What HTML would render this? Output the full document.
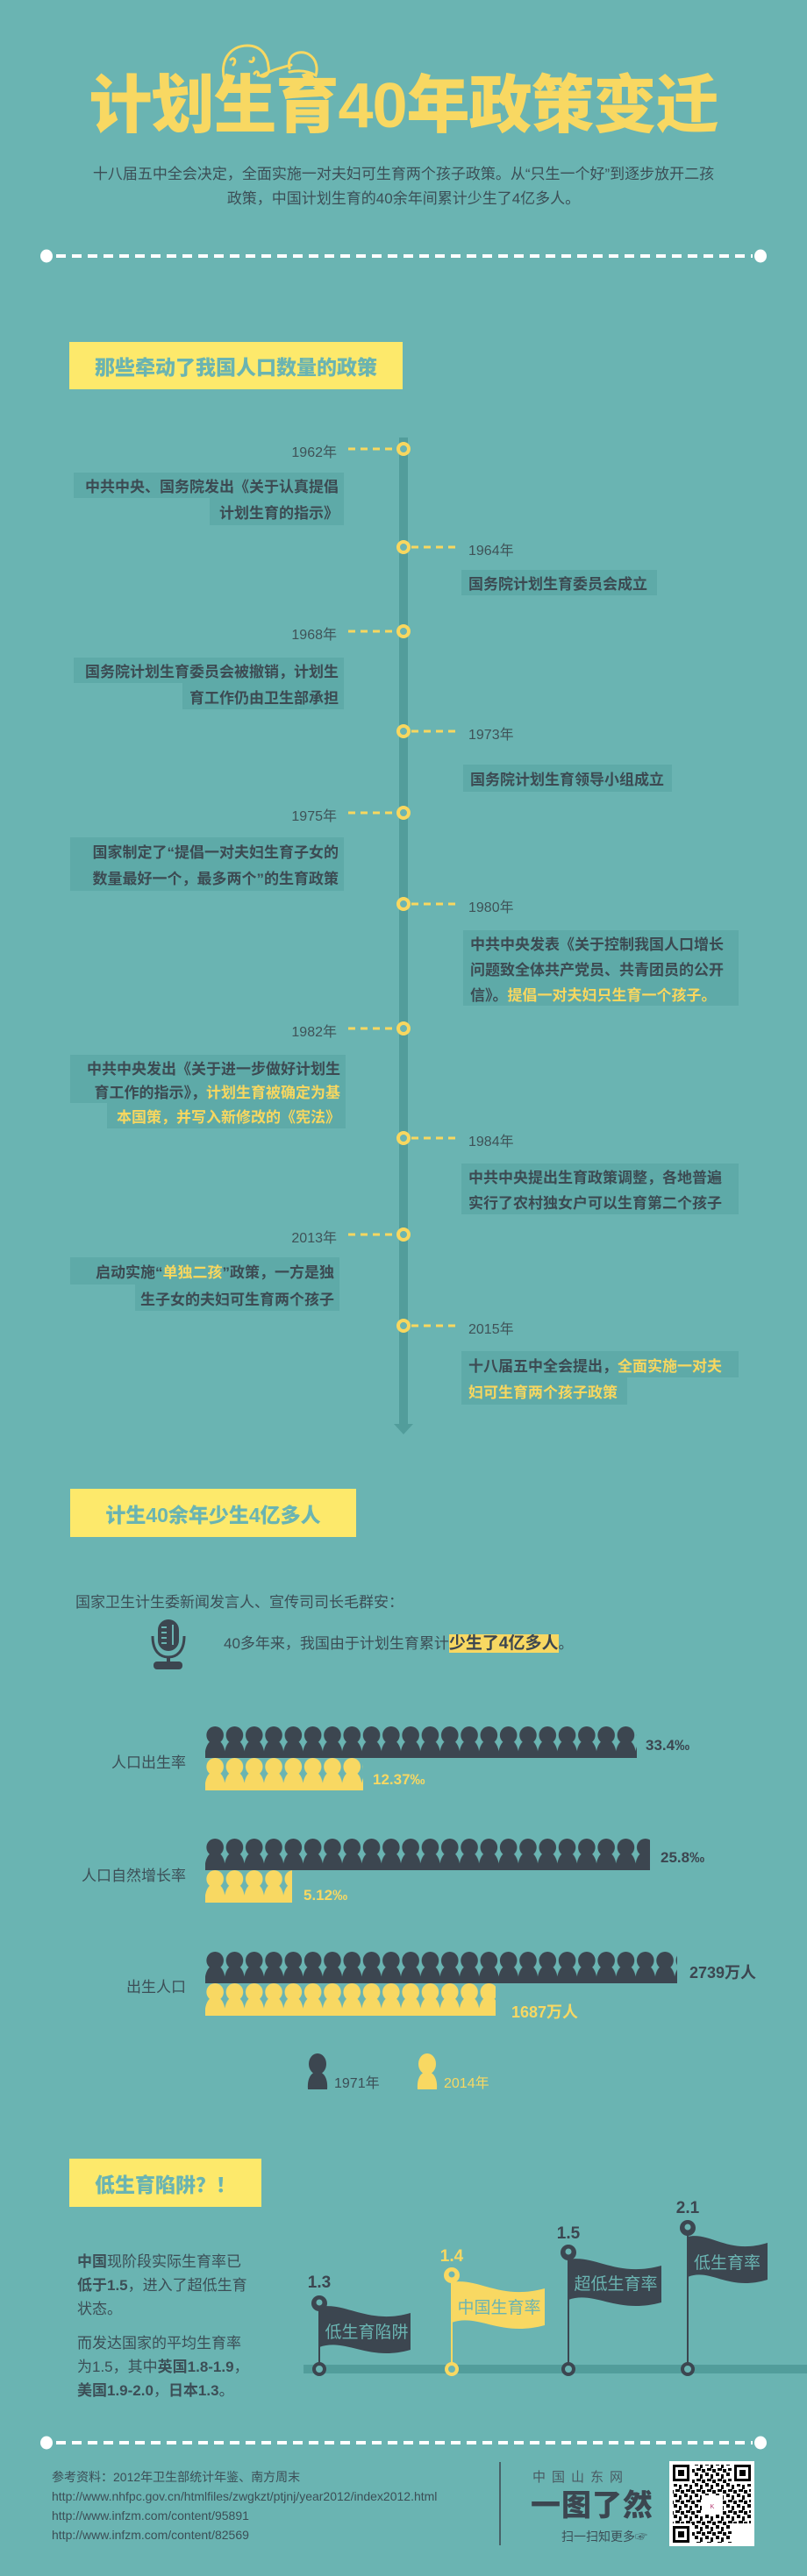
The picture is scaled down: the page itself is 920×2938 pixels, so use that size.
<!DOCTYPE html>
<html><head><meta charset="utf-8">
<style>
*{margin:0;padding:0;box-sizing:border-box}
body{width:920px;height:2938px;background:#6ab4b2;position:relative;overflow:hidden;font-family:"Liberation Sans","Noto Sans CJK SC",sans-serif;color:#3c4a52}
.a{position:absolute;white-space:nowrap}
svg.ov{position:absolute;left:0;top:0}
.hd{position:absolute;background:#fde96b;color:#6ab4b2;font-weight:900;font-size:23px;display:flex;align-items:center;justify-content:center}
.b{position:absolute;background:#5eaaa8;font-size:17px;font-weight:700;display:flex;align-items:center;white-space:nowrap;color:#3c4a52}
.r{justify-content:flex-end;padding-right:6px}
.l{justify-content:flex-start;padding-left:8px}
.y{color:#f8d75f}
.yr{font-size:16px;color:#3f5257}
</style></head><body>
<svg class="ov" width="920" height="2938" viewBox="0 0 920 2938">
<defs>
<pattern id="pd" patternUnits="userSpaceOnUse" width="22.3" height="36"><ellipse cx="11.15" cy="10" rx="9.8" ry="10" fill="#3c4650"/><path d="M-0.5,36 C-1,24 4,15 11.15,15 C18.3,15 23.3,24 22.8,36 Z" fill="#3c4650"/></pattern>
<pattern id="py" patternUnits="userSpaceOnUse" width="22.3" height="37"><ellipse cx="11.15" cy="10" rx="9.8" ry="10" fill="#f8d862"/><path d="M-0.5,37 C-1,24 4,15 11.15,15 C18.3,15 23.3,24 22.8,37 Z" fill="#f8d862"/></pattern>
</defs>
<!-- baby -->
<g fill="none" stroke="#f8d862" stroke-width="3" stroke-linecap="round">
<path d="M256,92 C250,70 262,52 282,52 C298,52 305,64 306,76 C308,84 302,90 296,86"/>
<path d="M263,68 C267,64 270,70 266,74"/>
<path d="M285,70 C288,72 290,68 289,66"/>
<path d="M290,84 C292,80 296,82 294,86 M298,86 C310,80 318,78 332,74"/>
<path d="M330,78 C326,62 342,56 352,62 C362,68 362,80 360,86 C350,80 340,80 330,82"/>
</g>
<!-- dashed separators -->
<g stroke="#fff" stroke-width="4" stroke-dasharray="11 7"><line x1="64" y1="292" x2="858" y2="292"/><line x1="64" y1="2786" x2="858" y2="2786"/></g>
<g fill="#fff"><ellipse cx="53" cy="292" rx="7" ry="7.5"/><ellipse cx="867" cy="292" rx="7" ry="7.5"/><ellipse cx="53" cy="2786" rx="7" ry="7.5"/><ellipse cx="867" cy="2786" rx="7" ry="7.5"/></g>
<!-- timeline -->
<rect x="455" y="499" width="10" height="1128" fill="#529d9b"/>
<polygon points="449,1624 471,1624 460,1636" fill="#529d9b"/>
<g stroke="#f8d75f" stroke-width="3" stroke-dasharray="8 6">
<line x1="397" y1="512" x2="451" y2="512"/><line x1="469" y1="624" x2="521" y2="624"/>
<line x1="397" y1="720" x2="451" y2="720"/><line x1="469" y1="834" x2="521" y2="834"/>
<line x1="397" y1="927" x2="451" y2="927"/><line x1="469" y1="1031" x2="521" y2="1031"/>
<line x1="397" y1="1173" x2="451" y2="1173"/><line x1="469" y1="1298" x2="521" y2="1298"/>
<line x1="397" y1="1408" x2="451" y2="1408"/><line x1="469" y1="1512" x2="521" y2="1512"/>
</g>
<g fill="#6ab4b2" stroke="#f8d75f" stroke-width="4">
<circle cx="460" cy="512" r="6"/><circle cx="460" cy="624" r="6"/><circle cx="460" cy="720" r="6"/><circle cx="460" cy="834" r="6"/><circle cx="460" cy="927" r="6"/><circle cx="460" cy="1031" r="6"/><circle cx="460" cy="1173" r="6"/><circle cx="460" cy="1298" r="6"/><circle cx="460" cy="1408" r="6"/><circle cx="460" cy="1512" r="6"/>
</g>
<!-- mic -->
<g fill="#3c4650">
<rect x="180" y="1847" width="24" height="36" rx="12"/>
<path d="M174,1866 C174,1884 183,1890 192,1890 C201,1890 210,1884 210,1866" fill="none" stroke="#3c4650" stroke-width="3"/>
<rect x="190" y="1889" width="4" height="7"/>
<rect x="175" y="1895" width="33" height="9" rx="4"/>
</g>
<g stroke="#6ab4b2" stroke-width="2"><line x1="184" y1="1856" x2="190" y2="1856"/><line x1="184" y1="1862" x2="190" y2="1862"/><line x1="184" y1="1868" x2="190" y2="1868"/><line x1="184" y1="1874" x2="190" y2="1874"/><line x1="197" y1="1853" x2="197" y2="1876"/></g>
<!-- people -->
<g transform="translate(234,1969)"><rect width="492" height="36" fill="url(#pd)"/></g>
<g transform="translate(234,2005)"><rect width="180" height="37" fill="url(#py)"/></g>
<g transform="translate(234,2097)"><rect width="507" height="36" fill="url(#pd)"/></g>
<g transform="translate(234,2133)"><rect width="99" height="37" fill="url(#py)"/></g>
<g transform="translate(234,2226)"><rect width="538" height="36" fill="url(#pd)"/></g>
<g transform="translate(234,2262)"><rect width="331" height="37" fill="url(#py)"/></g>
<g transform="translate(351,2343)"><ellipse cx="11" cy="11" rx="10" ry="12" fill="#3c4650"/><path d="M0,40 C-1,27 4,20 11,20 C18,20 23,27 22,40 Z" fill="#3c4650"/></g>
<g transform="translate(476,2343)"><ellipse cx="11" cy="11" rx="10" ry="12" fill="#f8d862"/><path d="M0,40 C-1,27 4,20 11,20 C18,20 23,27 22,40 Z" fill="#f8d862"/></g>
<!-- baseline -->
<rect x="346" y="2697" width="574" height="10" fill="#529d9b"/>
<!-- flags -->
<g font-family="Liberation Sans,Noto Sans CJK SC,sans-serif" text-anchor="middle">
<line x1="364" y1="2630" x2="364" y2="2700" stroke="#3c4650" stroke-width="2"/>
<path d="M364,2631 C394,2625 420,2652 468,2638 L468,2680 C420,2694 394,2666 364,2677 Z" fill="#3c4650"/>
<circle cx="364" cy="2627" r="9" fill="#3c4650"/><circle cx="364" cy="2626" r="3.5" fill="#6ab4b2"/>
<text x="418" y="2666" font-size="19" fill="#6ab4b2">低生育陷阱</text>
<text x="364" y="2609" font-size="19" font-weight="700" fill="#3c4650">1.3</text>
<circle cx="364" cy="2702" r="6" fill="#6ab4b2" stroke="#3c4650" stroke-width="4"/>

<line x1="515" y1="2600" x2="515" y2="2700" stroke="#f8d862" stroke-width="2"/>
<path d="M515,2603 C545,2597 570,2624 621,2610 L621,2652 C570,2666 545,2638 515,2649 Z" fill="#f8d862"/>
<circle cx="515" cy="2595" r="9" fill="#f8d862"/><circle cx="515" cy="2594" r="3.5" fill="#6ab4b2"/>
<text x="569" y="2638" font-size="19" fill="#6ab4b2">中国生育率</text>
<text x="515" y="2579" font-size="19" font-weight="700" fill="#f8d862">1.4</text>
<circle cx="515" cy="2702" r="6" fill="#6ab4b2" stroke="#f8d862" stroke-width="4"/>

<line x1="648" y1="2575" x2="648" y2="2700" stroke="#3c4650" stroke-width="2"/>
<path d="M648,2577 C678,2571 703,2598 754,2584 L754,2626 C703,2640 678,2612 648,2623 Z" fill="#3c4650"/>
<circle cx="648" cy="2569" r="9" fill="#3c4650"/><circle cx="648" cy="2568" r="3.5" fill="#6ab4b2"/>
<text x="702" y="2611" font-size="19" fill="#6ab4b2">超低生育率</text>
<text x="648" y="2553" font-size="19" font-weight="700" fill="#3c4650">1.5</text>
<circle cx="648" cy="2702" r="6" fill="#6ab4b2" stroke="#3c4650" stroke-width="4"/>

<line x1="784" y1="2548" x2="784" y2="2700" stroke="#3c4650" stroke-width="2"/>
<path d="M784,2551 C810,2545 830,2572 875,2558 L875,2600 C830,2614 810,2586 784,2597 Z" fill="#3c4650"/>
<circle cx="784" cy="2541" r="9" fill="#3c4650"/><circle cx="784" cy="2540" r="3.5" fill="#6ab4b2"/>
<text x="829" y="2587" font-size="19" fill="#6ab4b2">低生育率</text>
<text x="784" y="2524" font-size="19" font-weight="700" fill="#3c4650">2.1</text>
<circle cx="784" cy="2702" r="6" fill="#6ab4b2" stroke="#3c4650" stroke-width="4"/>
</g>
<!-- footer divider -->
<line x1="570" y1="2808" x2="570" y2="2903" stroke="#3c4650" stroke-width="1.5"/>
<!-- QR -->
<defs><pattern id="qr" patternUnits="userSpaceOnUse" width="12" height="12"><rect width="12" height="12" fill="#fff"/><rect x="0" y="0" width="4" height="4" fill="#000"/><rect x="6" y="2" width="3" height="5" fill="#000"/><rect x="2" y="7" width="5" height="3" fill="#000"/><rect x="8" y="8" width="4" height="4" fill="#000"/></pattern></defs>
<rect x="763" y="2807" width="97" height="97" fill="#fff"/>
<rect x="789" y="2811" width="45" height="89" fill="url(#qr)"/>
<rect x="767" y="2833" width="89" height="45" fill="url(#qr)"/>
<g fill="#000">
<rect x="767" y="2811" width="19" height="19"/><rect x="837" y="2811" width="19" height="19"/><rect x="767" y="2881" width="19" height="19"/>
</g>
<g fill="#fff"><rect x="770" y="2814" width="13" height="13"/><rect x="840" y="2814" width="13" height="13"/><rect x="770" y="2884" width="13" height="13"/></g>
<g fill="#000"><rect x="773" y="2817" width="7" height="7"/><rect x="843" y="2817" width="7" height="7"/><rect x="773" y="2887" width="7" height="7"/></g>
<rect x="800" y="2846" width="24" height="22" fill="#fff"/>
<text x="812" y="2861" font-size="7" fill="#b0306a" text-anchor="middle" font-family="Liberation Sans,sans-serif">K</text>
</svg>

<div class="a" style="left:0;width:920px;top:82px;text-align:center;font-size:72px;line-height:78px;font-weight:900;color:#f8d862;letter-spacing:-1px;font-family:'Liberation Sans','Noto Sans CJK SC',sans-serif">计划生育40年政策变迁</div>
<div class="a" style="left:0;width:920px;top:185px;text-align:center;font-size:17px;line-height:28px;color:#3c4e56">十八届五中全会决定，全面实施一对夫妇可生育两个孩子政策。从“只生一个好”到逐步放开二孩<br>政策，中国计划生育的40余年间累计少生了4亿多人。</div>

<div class="hd" style="left:79px;top:390px;width:380px;height:54px">那些牵动了我国人口数量的政策</div>

<div class="a yr" style="right:536px;top:502px">1962年</div>
<div class="a yr" style="left:534px;top:614px">1964年</div>
<div class="a yr" style="right:536px;top:710px">1968年</div>
<div class="a yr" style="left:534px;top:824px">1973年</div>
<div class="a yr" style="right:536px;top:917px">1975年</div>
<div class="a yr" style="left:534px;top:1021px">1980年</div>
<div class="a yr" style="right:536px;top:1163px">1982年</div>
<div class="a yr" style="left:534px;top:1288px">1984年</div>
<div class="a yr" style="right:536px;top:1398px">2013年</div>
<div class="a yr" style="left:534px;top:1502px">2015年</div>

<div class="b r" style="left:84px;top:539px;width:308px;height:29px">中共中央、国务院发出《关于认真提倡</div>
<div class="b r" style="left:239px;top:568px;width:153px;height:31px">计划生育的指示》</div>
<div class="b l" style="left:526px;top:650px;width:223px;height:29px">国务院计划生育委员会成立</div>
<div class="b r" style="left:84px;top:750px;width:308px;height:29px">国务院计划生育委员会被撤销，计划生</div>
<div class="b r" style="left:208px;top:779px;width:184px;height:30px">育工作仍由卫生部承担</div>
<div class="b l" style="left:528px;top:872px;width:238px;height:31px">国务院计划生育领导小组成立</div>
<div class="b r" style="left:80px;top:955px;width:312px;height:30px">国家制定了“提倡一对夫妇生育子女的</div>
<div class="b r" style="left:80px;top:985px;width:312px;height:31px">数量最好一个，最多两个”的生育政策</div>
<div class="b l" style="left:528px;top:1061px;width:314px;height:29px">中共中央发表《关于控制我国人口增长</div>
<div class="b l" style="left:528px;top:1090px;width:314px;height:29px">问题致全体共产党员、共青团员的公开</div>
<div class="b l" style="left:528px;top:1119px;width:314px;height:28px">信》。<span class="y">提倡一对夫妇只生育一个孩子。</span></div>
<div class="b r" style="left:80px;top:1203px;width:314px;height:28px">中共中央发出《关于进一步做好计划生</div>
<div class="b r" style="left:80px;top:1231px;width:314px;height:27px">育工作的指示》，<span class="y">计划生育被确定为基</span></div>
<div class="b r" style="left:122px;top:1258px;width:272px;height:29px"><span class="y">本国策，并写入新修改的《宪法》</span></div>
<div class="b l" style="left:526px;top:1327px;width:316px;height:29px">中共中央提出生育政策调整，各地普遍</div>
<div class="b l" style="left:526px;top:1356px;width:316px;height:29px">实行了农村独女户可以生育第二个孩子</div>
<div class="b r" style="left:80px;top:1434px;width:307px;height:31px">启动实施“<span class="y">单独二孩</span>”政策，一方是独</div>
<div class="b r" style="left:154px;top:1465px;width:233px;height:30px">生子女的夫妇可生育两个孩子</div>
<div class="b l" style="left:526px;top:1541px;width:316px;height:30px">十八届五中全会提出，<span class="y">全面实施一对夫</span></div>
<div class="b l" style="left:526px;top:1571px;width:189px;height:31px"><span class="y">妇可生育两个孩子政策</span></div>

<div class="hd" style="left:80px;top:1698px;width:326px;height:55px">计生40余年少生4亿多人</div>
<div class="a" style="left:86px;top:1813px;font-size:17px;color:#3c4e56">国家卫生计生委新闻发言人、宣传司司长毛群安：</div>
<div class="a" style="left:255px;top:1862px;height:25px;line-height:25px;font-size:17px;color:#3c4e56">40多年来，我国由于计划生育累计<span style="background:#f8d862;font-weight:700;font-size:19px;color:#3c4650">少生了4亿多人</span>。</div>

<div class="a" style="right:708px;top:1996px;font-size:17px;color:#3c4e56">人口出生率</div>
<div class="a" style="right:708px;top:2125px;font-size:17px;color:#3c4e56">人口自然增长率</div>
<div class="a" style="right:708px;top:2252px;font-size:17px;color:#3c4e56">出生人口</div>
<div class="a" style="left:736px;top:1981px;font-size:17px;font-weight:700;color:#3c4650">33.4‰</div>
<div class="a" style="left:425px;top:2020px;font-size:17px;font-weight:700;color:#f8d862">12.37‰</div>
<div class="a" style="left:753px;top:2109px;font-size:17px;font-weight:700;color:#3c4650">25.8‰</div>
<div class="a" style="left:346px;top:2152px;font-size:17px;font-weight:700;color:#f8d862">5.12‰</div>
<div class="a" style="left:786px;top:2236px;font-size:18px;font-weight:700;color:#3c4650">2739万人</div>
<div class="a" style="left:583px;top:2281px;font-size:18px;font-weight:700;color:#f8d862">1687万人</div>
<div class="a" style="left:381px;top:2362px;font-size:16px;color:#3c4e56">1971年</div>
<div class="a" style="left:506px;top:2362px;font-size:16px;color:#f8d862">2014年</div>

<div class="hd" style="left:79px;top:2462px;width:219px;height:55px">低生育陷阱？！</div>
<div class="a" style="left:88px;top:2566px;font-size:17px;line-height:27px;color:#3c4e56">
<b>中国</b>现阶段实际生育率已<br><b>低于1.5</b>，进入了超低生育<br>状态。<div style="height:12px"></div>而发达国家的平均生育率<br>为1.5，其中<b>英国1.8-1.9</b>，<br><b>美国1.9-2.0</b>，<b>日本1.3</b>。</div>

<div class="a" style="left:59px;top:2814px;font-size:14px;line-height:22px;color:#3c4e56">参考资料：2012年卫生部统计年鉴、南方周末<br>http://www.nhfpc.gov.cn/htmlfiles/zwgkzt/ptjnj/year2012/index2012.html<br>http://www.infzm.com/content/95891<br>http://www.infzm.com/content/82569</div>
<div class="a" style="left:607px;top:2814px;font-size:15px;letter-spacing:7px;color:#4a5a62">中国山东网</div>
<div class="a" style="left:605px;top:2830px;font-size:34px;font-weight:900;color:#3c4650;letter-spacing:1px">一图了然</div>
<div class="a" style="left:640px;top:2883px;font-size:14px;color:#3c4e56">扫一扫知更多☞</div>
</body></html>
